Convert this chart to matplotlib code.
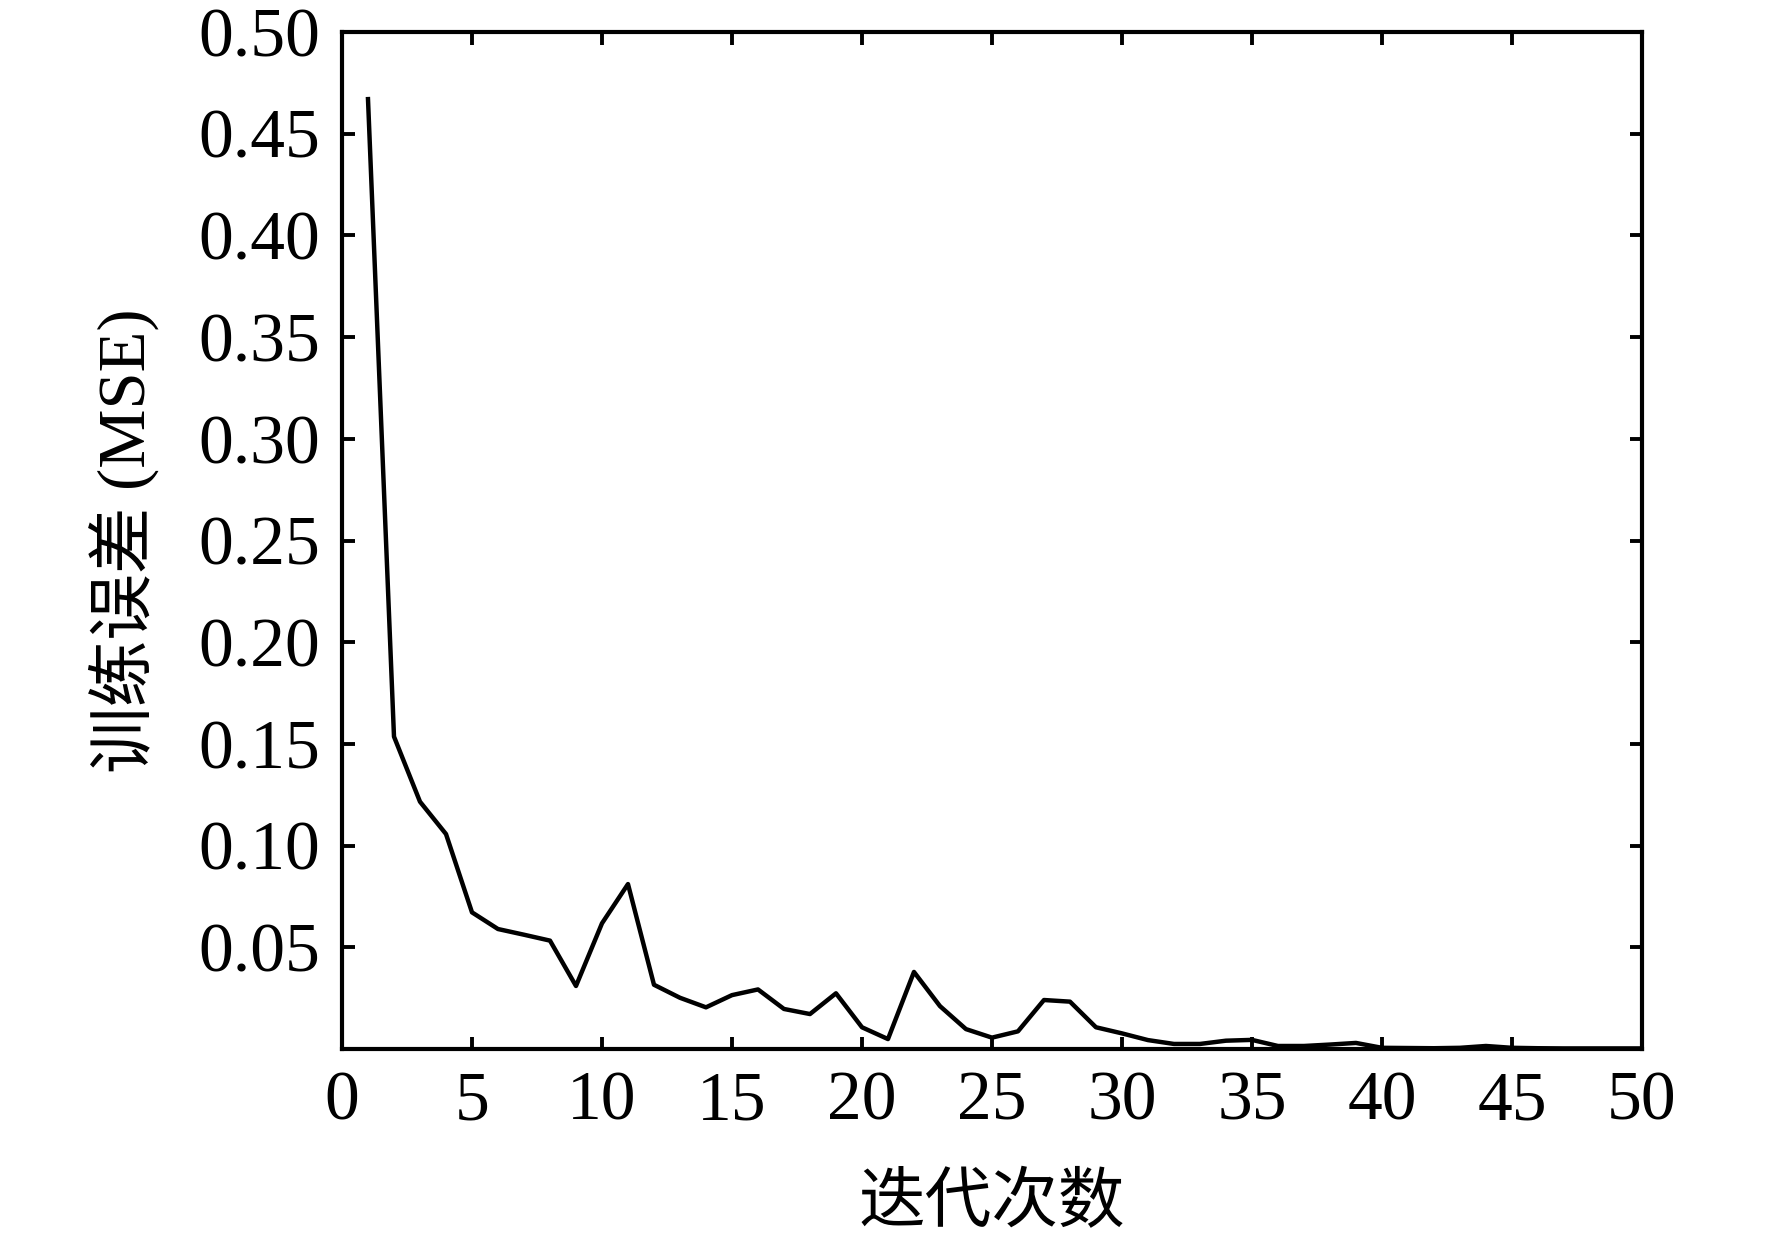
import matplotlib
matplotlib.use("Agg")
import matplotlib.pyplot as plt
import numpy as np

plt.rcParams['font.family'] = ['Liberation Serif', 'Noto Sans CJK SC', 'DejaVu Sans']

# training error (MSE) per iteration
iters = np.arange(1, 51)
mse = [0.467, 0.1536, 0.1216, 0.1057, 0.0672, 0.0590, 0.0562, 0.0533, 0.0310, 0.0618,
       0.0811, 0.0316, 0.0252, 0.0205, 0.0265, 0.0293, 0.0197, 0.0172, 0.0274, 0.0107,
       0.0049, 0.0379, 0.0211, 0.0098, 0.0056, 0.0087, 0.0241, 0.0233, 0.0107, 0.0077,
       0.0044, 0.0025, 0.0025, 0.0041, 0.0045, 0.0015, 0.0015, 0.0022, 0.0030, 0.0006,
       0.0005, 0.0004, 0.0006, 0.0015, 0.0006, 0.0004, 0.0003, 0.0003, 0.0003, 0.0003]

xticks = np.arange(0, 51, 5)
yticks = [0.05, 0.10, 0.15, 0.20, 0.25, 0.30, 0.35, 0.40, 0.45, 0.50]
ytick_labels = ["%.2f" % v for v in yticks]

fig = plt.figure(figsize=(8.86, 6.225), dpi=200)
ax = fig.add_axes([0.193, 0.1574, 0.7336, 0.8169])

ax.plot(iters, mse, c='black', lw=1.6)

ax.set_xlim(0, 50)
ax.set_ylim(0, 0.5)
ax.set_xticks(xticks)
ax.set_yticks(yticks)
ax.set_yticklabels(ytick_labels)

ax.tick_params(direction='in', top=True, right=True, length=4.5, width=1.4,
               labelsize=25, pad=8)
for s in ax.spines.values():
    s.set_linewidth(1.5)

ax.set_xlabel("迭代次数", fontsize=24, labelpad=14)
ax.set_ylabel("训练误差 (MSE)", fontsize=24, labelpad=14)

fig.savefig("out.png", dpi=200)
